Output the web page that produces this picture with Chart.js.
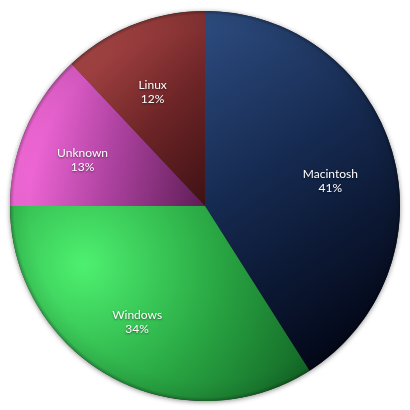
<!DOCTYPE html>
<html>
<head>
<meta charset="utf-8">
<script src="https://cdn.jsdelivr.net/npm/chart.js@4.4.1/dist/chart.umd.min.js"></script>
<style>
  html, body { margin: 0; padding: 0; background: #fff; }
  #wrap { width: 410px; height: 410px; }
</style>
</head>
<body>
<div id="wrap"><canvas id="myChart" width="410" height="410"></canvas></div>
<script>
const labels = ['Macintosh', 'Windows', 'Unknown', 'Linux'];
const shares = [41, 34, 13, 12];

// light / mid / dark tones for each slice
const lightTones = ['#2f4f84', '#4ef070', '#ff6fe2', '#a84545'];
const midTones = ['#15294f', '#2aa844', '#ad42a0', '#6e2527'];
const darkTones = ['#030819', '#105f22', '#5e1d55', '#3f1114'];

function sliceFill(context) {
    const chart = context.chart;
    const area = chart.chartArea;
    if (!area) return midTones[context.dataIndex];
    const ctx = chart.ctx;
    const cx = (area.left + area.right) / 2;
    const cy = (area.top + area.bottom) / 2;
    const r = Math.min(area.right - area.left, area.bottom - area.top) / 2;
    const i = context.dataIndex;
    let g;
    if (i === 0) {
        g = ctx.createLinearGradient(cx - 0.1 * r, cy - r, cx + 0.95 * r, cy + 0.55 * r);
    } else if (i === 1) {
        g = ctx.createRadialGradient(cx - 0.62 * r, cy + 0.3 * r, 0, cx - 0.62 * r, cy + 0.3 * r, 1.35 * r);
    } else if (i === 2) {
        g = ctx.createLinearGradient(cx - r, cy - 0.2 * r, cx, cy);
    } else {
        g = ctx.createLinearGradient(cx - 0.7 * r, cy - 0.7 * r, cx, cy);
    }
    g.addColorStop(0, lightTones[i]);
    g.addColorStop(0.5, midTones[i]);
    g.addColorStop(1, darkTones[i]);
    return g;
}

const pieShadow = {
    id: 'pieShadow',
    beforeDatasetsDraw(chart) {
        const arc = chart.getDatasetMeta(0).data[0];
        if (!arc) return;
        const ctx = chart.ctx;
        ctx.save();
        ctx.beginPath();
        ctx.arc(arc.x, arc.y, arc.outerRadius, 0, Math.PI * 2);
        ctx.shadowColor = 'rgba(0,0,0,0.45)';
        ctx.shadowBlur = 5;
        ctx.shadowOffsetY = 1;
        ctx.fillStyle = '#333';
        ctx.fill();
        ctx.restore();
    },
    afterDatasetsDraw(chart) {
        const arc = chart.getDatasetMeta(0).data[0];
        if (!arc) return;
        const ctx = chart.ctx;
        const r = arc.outerRadius;
        // darker rim like a rounded edge
        ctx.save();
        const rim = ctx.createRadialGradient(arc.x, arc.y, r * 0.9, arc.x, arc.y, r);
        rim.addColorStop(0, 'rgba(0,0,0,0)');
        rim.addColorStop(0.8, 'rgba(0,0,0,0.06)');
        rim.addColorStop(1, 'rgba(0,0,0,0.3)');
        ctx.beginPath();
        ctx.arc(arc.x, arc.y, r, 0, Math.PI * 2);
        ctx.fillStyle = rim;
        ctx.fill();
        ctx.restore();
    }
};

const sliceLabels = {
    id: 'sliceLabels',
    afterDatasetsDraw(chart, args, opts) {
        const ctx = chart.ctx;
        const meta = chart.getDatasetMeta(0);
        ctx.save();
        ctx.font = '12px Lato, "DejaVu Sans", sans-serif';
        ctx.fillStyle = '#ffffff';
        ctx.textAlign = 'center';
        ctx.textBaseline = 'middle';
        ctx.shadowColor = 'rgba(0,0,0,0.5)';
        ctx.shadowBlur = 2;
        ctx.shadowOffsetY = 1;
        meta.data.forEach((arc, i) => {
            const shift = (opts.angleShift[i] || 0) * Math.PI / 180;
            const mid = (arc.startAngle + arc.endAngle) / 2 + shift;
            const rr = arc.outerRadius * opts.radius[i];
            const x = arc.x + Math.cos(mid) * rr;
            const y = arc.y + Math.sin(mid) * rr;
            ctx.fillText(labels[i], x, y - 7);
            ctx.fillText(shares[i] + '%', x, y + 7);
        });
        ctx.restore();
    }
};

new Chart(document.getElementById('myChart'), {
    type: 'pie',
    data: {
        labels: labels,
        datasets: [{
            data: shares,
            backgroundColor: sliceFill,
            borderWidth: 0,
        }]
    },
    options: {
        responsive: false,
        animation: false,
        layout: { padding: { left: 10, right: 10, top: 11, bottom: 9 } },
        plugins: {
            legend: { display: false },
            tooltip: { enabled: false },
            sliceLabels: { radius: [0.655, 0.69, 0.67, 0.645], angleShift: [5, 1.5, -3, -3] }
        }
    },
    plugins: [pieShadow, sliceLabels]
});
</script>
</body>
</html>
